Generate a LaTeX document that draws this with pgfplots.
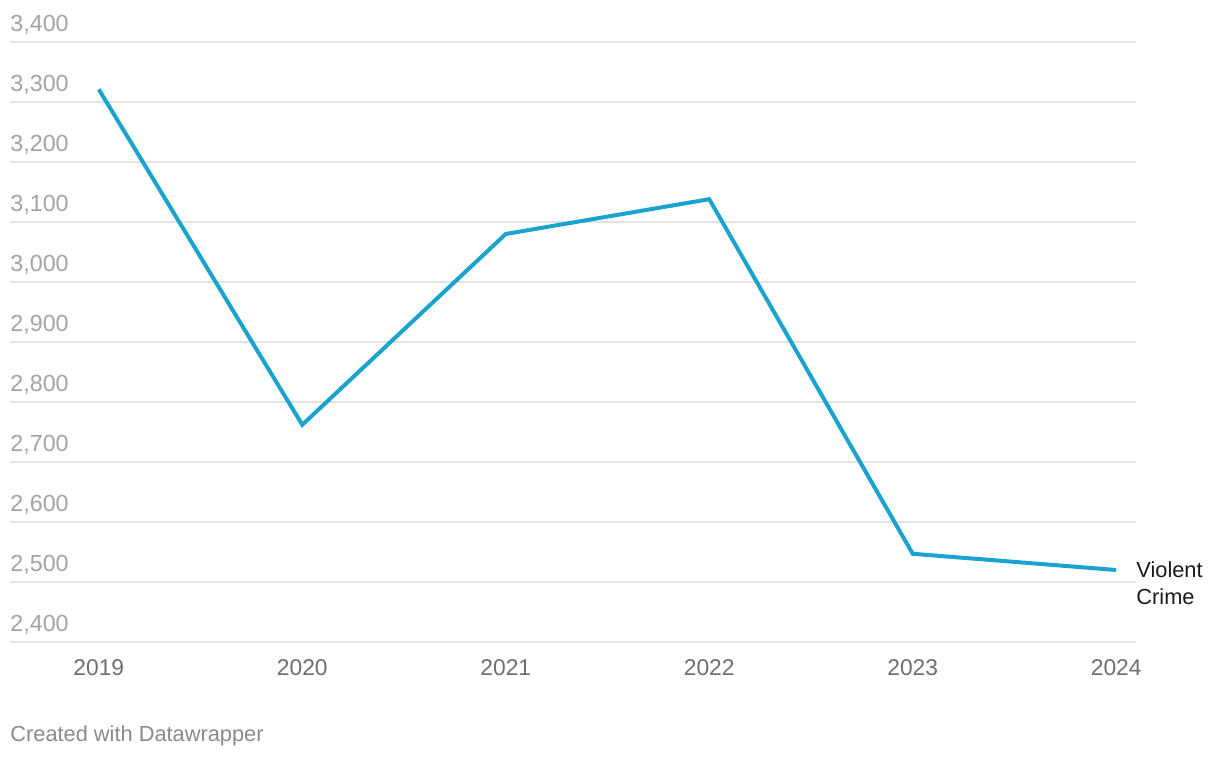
\documentclass[border=0pt]{standalone}
\usepackage{fontspec}
\setmainfont{Liberation Sans}
\usepackage{pgfplots}
\pgfplotsset{compat=1.18}
\definecolor{linecol}{HTML}{1AA3CF}
\definecolor{gridcol}{HTML}{E2E2E2}
\definecolor{ylab}{HTML}{A3A3A3}
\definecolor{xlab}{HTML}{6E6E6E}
\definecolor{foot}{HTML}{8A8A8A}
\definecolor{lab}{HTML}{1A1A1A}
\begin{document}
\begin{tikzpicture}
\useasboundingbox (0,0) rectangle (610pt,379pt);
\begin{axis}[
  at={(5pt,58pt)}, anchor=south west,
  scale only axis, width=563pt, height=300pt,
  xmin=2018.5636, xmax=2024.0973, ymin=2400, ymax=3400,
  axis line style={draw=none},
  ytick={2400,2500,...,3400},
  xtick={2019,2020,2021,2022,2023,2024},
  xticklabels={2019,2020,2021,2022,2023,2024},
  major tick length=0pt,
  ymajorgrids, grid style={gridcol, line width=1pt},
  /pgf/number format/1000 sep={,},
  /pgf/number format/assume math mode=true,
  yticklabel style={anchor=base west, inner sep=0pt, yshift=5pt,
    font=\fontsize{11.65}{14}\selectfont, text=ylab},
  xticklabel style={anchor=base, inner sep=0pt, yshift=-17pt,
    font=\fontsize{11.4}{14}\selectfont, text=xlab},
  clip=false,
]
\addplot[linecol, line width=2pt] coordinates {
  (2019,3321) (2020,2762) (2021,3080) (2022,3138) (2023,2547) (2024,2520)
};
\node[anchor=base west, inner sep=0pt, text=lab, font=\fontsize{10.9}{14}\selectfont] at (axis cs:2024.0973,2508.3) {Violent};
\node[anchor=base west, inner sep=0pt, text=lab, font=\fontsize{10.9}{14}\selectfont] at (axis cs:2024.0973,2461.7) {Crime};
\end{axis}
\node[anchor=base west, inner sep=0pt, text=foot, font=\fontsize{10.9}{14}\selectfont] at (5pt,8pt) {Created with Datawrapper};
\end{tikzpicture}
\end{document}
